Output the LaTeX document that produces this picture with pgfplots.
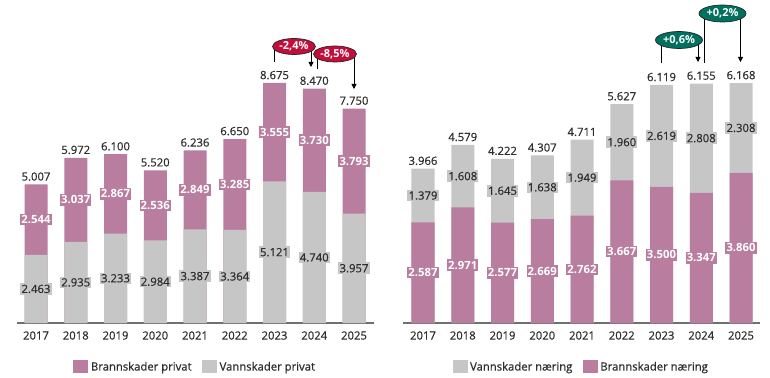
\documentclass[border=0pt]{standalone}
\usepackage{fontspec}
\setmainfont{Open Sans}
\newfontfamily\medfont{Open Sans}[FakeBold=0.6]
\usepackage{pgfplots}
\usepackage{pgfplotstable}
\pgfplotsset{compat=1.18}
\usetikzlibrary{arrows.meta,shapes.geometric}
\definecolor{pinkc}{HTML}{B97D9F}
\definecolor{lgray}{HTML}{C6C6C6}
\definecolor{badgered}{HTML}{C20E3A}
\definecolor{badgeteal}{HTML}{00705F}
\definecolor{axgray}{HTML}{707070}
\definecolor{txt}{HTML}{2E2E2E}

% x: position, g: vannskader privat, p: brannskader privat, t: total
\pgfplotstableread{
x g p t
0 2463 2544 5007
1 2935 3037 5972
2 3233 2867 6100
3 2984 2536 5520
4 3387 2849 6236
5 3364 3285 6650
6 5121 3555 8675
7 4740 3730 8470
8 3957 3793 7750
}\privat

% x: position, p: brannskader naering, g: vannskader naering, t: total
\pgfplotstableread{
x p g t
0 2587 1379 3966
1 2971 1608 4579
2 2577 1645 4222
3 2669 1638 4307
4 2762 1949 4711
5 3667 1960 5627
6 3500 2619 6119
7 3347 2808 6155
8 3860 2308 6168
}\naering

\newcommand\lblfont{\fontsize{11.3bp}{13bp}\selectfont\medfont}
\newcommand\boldlbl{\fontsize{11.3bp}{13bp}\selectfont\bfseries}

\pgfplotsset{
  panel/.style={
    scale only axis, width=357bp, height=303bp,
    anchor=south west,
    ymin=0, clip=false,
    axis x line*=bottom, axis y line=none,
    x axis line style={draw=axgray, line width=1.5bp, -},
    xtick={0,...,8},
    xticklabels={2017,2018,2019,2020,2021,2022,2023,2024,2025},
    major tick length=0pt,
    xticklabel style={anchor=center, yshift=-12.5bp, font=\lblfont, text=txt},
    /pgf/number format/assume math mode=true,
    /pgf/number format/1000 sep={.},
    legend style={at={(axis description cs:0.5,-0.1452)}, anchor=center, draw=none,
      legend columns=2, font=\lblfont, text=txt,
      nodes={inner xsep=2.5bp, inner ysep=1bp},
      /tikz/every even column/.append style={column sep=8bp},
      legend cell align=left, inner sep=0pt},
  },
  totbar/.style={ybar, bar width=23bp, bar shift=0pt, draw=none, fill=#1,
    legend image code/.code={\fill[#1] (0bp,-6.5bp) rectangle (15bp,6.5bp);},
    nodes near coords, point meta=explicit,
    nodes near coords style={anchor=south, inner sep=0pt, yshift=3.5bp,
      font=\lblfont, text=txt}},
  segbar/.style={ybar, bar width=23bp, bar shift=0pt, draw=none, fill=#1,
    legend image code/.code={\fill[#1] (0bp,-6.5bp) rectangle (15bp,6.5bp);}},
  seglab/.style n args={3}{draw=none, mark=none, nodes near coords, point meta=explicit,
    nodes near coords style={anchor=center, fill=#1, inner xsep=1.2bp, inner ysep=1.6bp, text=#2,
      font=#3}},
}

\tikzset{badge/.style={ellipse, draw=black!85, line width=0.7bp, fill=#1, text=white,
  inner sep=0pt, minimum width=43bp, minimum height=16bp,
  font=\fontsize{11bp}{12bp}\selectfont\bfseries},
  arr/.style={draw=black, line width=0.8bp, -{Triangle[width=5bp,length=5bp]}},
  ln/.style={draw=black, line width=0.8bp}}

\begin{document}
\begin{tikzpicture}
\useasboundingbox (0,0) rectangle (770bp,378bp);

% ---------- Left panel ----------
\begin{axis}[panel, at={(17bp,55bp)}, xmin=-0.478, xmax=8.503, ymax=10951]
\addplot[totbar=pinkc] table[x=x, y=t, meta=t] {\privat};
\addlegendentry{Brannskader privat}
\addplot[segbar=lgray] table[x=x, y=g] {\privat};
\addlegendentry{Vannskader privat}
\addplot[seglab={lgray}{txt}{\lblfont}] table[x=x, y expr=\thisrow{g}/2, meta=g] {\privat};
\addplot[seglab={pinkc}{white}{\boldlbl}] table[x=x, y expr=\thisrow{g}+\thisrow{p}/2, meta=p] {\privat};
\end{axis}

% ---------- Right panel ----------
\begin{axis}[panel, at={(403bp,55bp)}, xmin=-0.503, xmax=8.478, ymax=7789]
\addplot[totbar=lgray] table[x=x, y=t, meta=t] {\naering};
\addlegendentry{Vannskader næring}
\addplot[segbar=pinkc] table[x=x, y=p] {\naering};
\addlegendentry{Brannskader næring}
\addplot[seglab={pinkc}{white}{\boldlbl}] table[x=x, y expr=\thisrow{p}/2, meta=p] {\naering};
\addplot[seglab={lgray}{txt}{\lblfont}] table[x=x, y expr=\thisrow{p}+\thisrow{g}/2, meta=g] {\naering};
\end{axis}

% ---------- Change badges ----------
% -2,4 %
\draw[ln] (274.5bp,316bp) -- (274.5bp,331bp);
\draw[arr] (311bp,331bp) -- (311bp,311bp);
% -8,5 %
\draw[ln] (317bp,309bp) -- (317bp,324bp);
\draw[arr] (354bp,324bp) -- (354bp,289bp);
\node[badge=badgered] at (294bp,331.5bp) {-2,4\%};
\node[badge=badgered] at (335bp,324bp) {-8,5\%};
% +0,6 %
\draw[ln] (661.5bp,315bp) -- (661.5bp,337bp);
\draw[arr] (698bp,337bp) -- (698bp,316bp);
% +0,2 %
\draw[ln] (704bp,315bp) -- (704bp,364.5bp);
\draw[arr] (740.5bp,364.5bp) -- (740.5bp,316bp);
\node[badge=badgeteal, minimum width=47bp, minimum height=17bp] at (679bp,338bp) {+0,6\%};
\node[badge=badgeteal, minimum width=47bp, minimum height=17bp] at (722.5bp,364.5bp) {+0,2\%};
\end{tikzpicture}
\end{document}
